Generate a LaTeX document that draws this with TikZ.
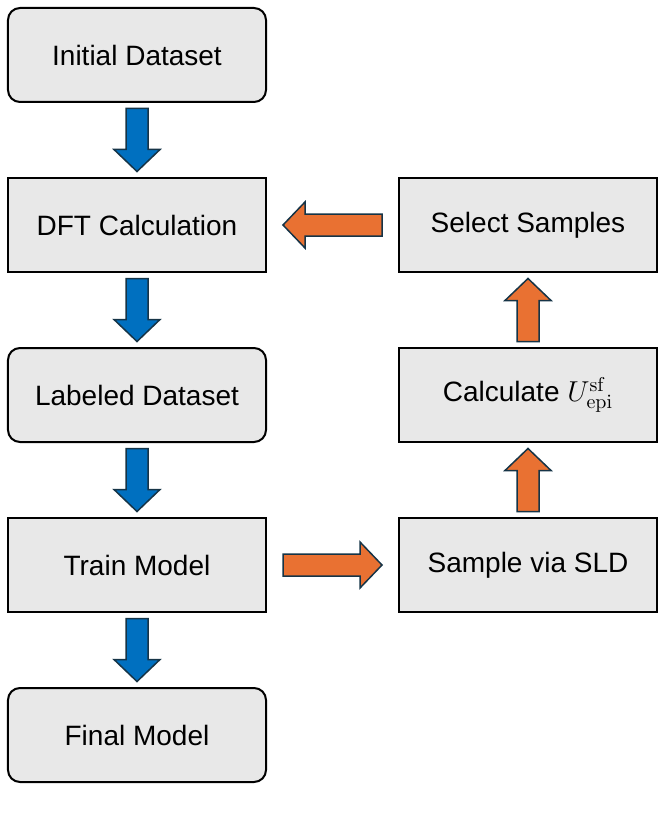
\documentclass[tikz,border=0pt]{standalone}
\usepackage[no-math]{fontspec}
\setmainfont{Liberation Sans}
\usetikzlibrary{positioning,calc}

\definecolor{boxgray}{HTML}{E8E8E8}
\definecolor{flowblue}{HTML}{0070C0}
\definecolor{looporange}{HTML}{E97132}
\definecolor{edgenavy}{HTML}{163447}

\begin{document}
\begin{tikzpicture}[
			node distance=38pt and 66.5pt,
			every node/.style={font=\fontsize{14}{17}\selectfont},
			box/.style={
				draw,
				line width=1pt,
				fill=boxgray,
				align=center,
				minimum width=129pt,
				minimum height=47pt,
				outer sep=0pt
			},
			data/.style={box, rounded corners=6pt},
			bluearrow/.style={draw=edgenavy, line width=0.75pt, fill=flowblue},
			orangearrow/.style={draw=edgenavy, line width=0.75pt, fill=looporange},
			fatarrow/.pic={
				\path[pic actions] (-#1/2,-5.5pt) -- (#1/2-11pt,-5.5pt) -- (#1/2-11pt,-11.5pt)
				-- (#1/2,0pt) -- (#1/2-11pt,11.5pt) -- (#1/2-11pt,5.5pt) -- (-#1/2,5.5pt) -- cycle;
			}
			]
			
			% ---- Main column ----
			\node[data] (init) {Initial Dataset};
			\node[box, below=of init] (dft) {DFT Calculation};
			\node[data, below=of dft] (labeled) {Labeled Dataset};
			\node[box, below=of labeled] (train) {Train Model};
			\node[data, below=of train] (final) {Final Model};
			
			% ---- Sampling loop ----
			\node[box, right=of dft] (select) {Select Samples};
			\node[box, right=of labeled] (epi) {Calculate $U^{\mathrm{sf}}_{\mathrm{epi}}$};
			\node[box, right=of train] (sample) {Sample via SLD};
			
			\useasboundingbox ($(init.north west)+(-4pt,4pt)$) rectangle ++(332pt,-414.5pt);
			
			% ---- Main arrows ----
			\pic[bluearrow, rotate=-90] at ($(init.south)!0.5!(dft.north)$) {fatarrow=31.5pt};
			\pic[bluearrow, rotate=-90] at ($(dft.south)!0.5!(labeled.north)$) {fatarrow=31.5pt};
			\pic[bluearrow, rotate=-90] at ($(labeled.south)!0.5!(train.north)$) {fatarrow=31.5pt};
			\pic[bluearrow, rotate=-90] at ($(train.south)!0.5!(final.north)$) {fatarrow=31.5pt};
			
			% ---- Loop arrows ----
			\pic[orangearrow] at ($(train.east)!0.5!(sample.west)$) {fatarrow=49.5pt};
			\pic[orangearrow, rotate=90] at ($(sample.north)!0.5!(epi.south)$) {fatarrow=31.5pt};
			\pic[orangearrow, rotate=90] at ($(epi.north)!0.5!(select.south)$) {fatarrow=31.5pt};
			\pic[orangearrow, rotate=180] at ($(select.west)!0.5!(dft.east)$) {fatarrow=49.5pt};
			
		\end{tikzpicture}
\end{document}
